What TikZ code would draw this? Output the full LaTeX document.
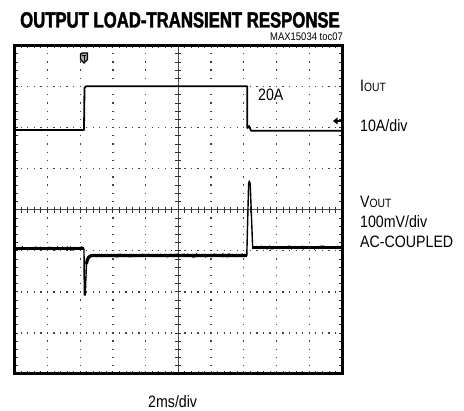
\documentclass[tikz,border=0pt]{standalone}
\usepackage{fontspec}
\usetikzlibrary{decorations.pathmorphing}
\setmainfont{Liberation Sans}
\newfontfamily\lblfont[FakeStretch=0.86]{Liberation Sans}
\newfontfamily\ttlfont[FakeStretch=0.76,FakeBold=1.8]{Liberation Sans Bold}
\begin{document}
\begin{tikzpicture}[x=1pt,y=-1pt,
  lbl/.style={inner sep=0pt, anchor=base west, font=\lblfont\fontsize{16.5}{19}\selectfont},
  frameline/.style={line width=3pt},
  gridmajor/.style={line width=1.3pt, black!75},
  axisline/.style={line width=0.8pt, black!70},
  ticklet/.style={line width=0.8pt, black!80},
  itrace/.style={line width=1.8pt, line join=round},
  vtrace/.style={line width=3.2pt, line join=round},
  noisy/.style={line width=0.9pt, decorate, decoration={random steps, segment length=1.6pt, amplitude=1.6pt}},
  spike/.style={line width=1.4pt, line join=round}]
\useasboundingbox (0,0) rectangle (464,411);
\fill[white] (0,0) rectangle (464,411);
\pgfmathsetseed{7}
\def\xa{14.7}\def\xb{342}\def\ya{45.5}\def\yb{374}
\pgfmathsetmacro\dx{(\xb-\xa)/10}
\pgfmathsetmacro\dy{(\yb-\ya)/8}
\pgfmathsetmacro\offx{\dx/5-1.3}
\pgfmathsetmacro\offy{\dy/5-1.3}
% dotted major grid
\foreach \k in {1,...,9}{
  \draw[gridmajor, dash pattern=on 1.3pt off \offy pt, dash phase=0.65pt] ({\xa+\k*\dx},\ya) -- ({\xa+\k*\dx},\yb);
}
\foreach \k in {1,...,7}{
  \draw[gridmajor, dash pattern=on 1.3pt off \offx pt, dash phase=0.65pt] (\xa,{\ya+\k*\dy}) -- (\xb,{\ya+\k*\dy});
}
% centre axes
\draw[axisline] ({\xa+5*\dx},\ya) -- ({\xa+5*\dx},\yb);
\draw[axisline] (\xa,{\ya+4*\dy}) -- (\xb,{\ya+4*\dy});
\foreach \i in {1,...,39}{
  \draw[ticklet] ({\xa+5*\dx-3},{\ya+\i*\dy/5}) -- ++(6,0);
  \draw[ticklet] (\xa,{\ya+\i*\dy/5}) -- ++(3,0);
  \draw[ticklet] (\xb,{\ya+\i*\dy/5}) -- ++(-3,0);
}
\foreach \i in {1,...,49}{
  \draw[ticklet] ({\xa+\i*\dx/5},{\ya+4*\dy-3}) -- ++(0,6);
  \draw[ticklet] ({\xa+\i*\dx/5},\ya) -- ++(0,3);
  \draw[ticklet] ({\xa+\i*\dx/5},\yb) -- ++(0,-3);
}
% frame
\draw[frameline] (\xa,\ya) rectangle (\xb,\yb);
% trigger marker
\draw[line width=1.2pt, fill=black!35] (80.5,53) -- (80.5,59.5) -- (84,63) -- (87.5,59.5) -- (87.5,53) [rounded corners=1.5pt] -- cycle;
\draw[line width=1pt] (82.2,55.2) -- (85.8,55.2) (84,55.2) -- (84,61);
% level marker
\fill (333,121) -- (337.5,117.5) -- (337.5,124.5) -- cycle;
\draw[line width=1.2pt] (336,121) -- (\xb,121);
% I_OUT trace
\draw[itrace] (\xa,130) -- (84,130) -- (84.5,88) -- (86,86.3) -- (247.3,86.3) -- (247.3,128) -- (249,126) -- (251,130.7) -- (\xb,130.7);
% V_OUT trace
\draw[vtrace] (\xa,248.5) -- (84,248.5);
\draw[noisy] (\xa,248.5) -- (83.5,248.5);
\draw[spike] (84,248.5) -- (84.3,295) -- (85.3,295) -- (86.4,264);
\draw[vtrace] (86.4,264) .. controls (87.5,257.5) and (89,255.5) .. (93,255.5) -- (247,255.5);
\draw[noisy] (93,255.5) -- (246.5,255.5);
\draw[spike] (246.8,255.5) -- (248.6,184) -- (249.3,181) -- (250.2,184) -- (252.6,246);
\draw[vtrace] (252,247.5) -- (\xb,247.5);
\draw[noisy] (254,247.5) -- (\xb,247.5);
% texts
\node[inner sep=0pt, anchor=base west, font=\ttlfont\fontsize{22}{24}\selectfont] (title) at (20,27.5) {OUTPUT LOAD-TRANSIENT RESPONSE};
\node[inner sep=0pt, anchor=base east, font=\lblfont\fontsize{11}{12}\selectfont] (tocid) at (343,40.5) {MAX15034 toc07};
\node[lbl] (twentyA) at (258,101) {20A};
\node[lbl] (iout) at (360,92) {I{\fontsize{12}{12}\selectfont OUT}};
\node[lbl] (idiv) at (360,131.7) {10A/div};
\node[lbl] (vout) at (360,207.5) {V{\fontsize{12}{12}\selectfont OUT}};
\node[lbl] (vdiv) at (360,228) {100mV/div};
\node[lbl] (coupling) at (360,248) {AC-COUPLED};
\node[lbl] (tdiv) at (148,408) {2ms/div};
\end{tikzpicture}
\end{document}
